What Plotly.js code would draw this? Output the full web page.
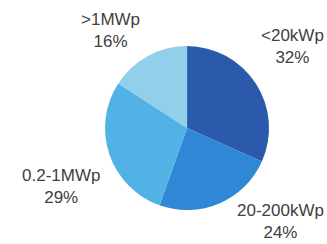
<!DOCTYPE html>
<html><head><meta charset="utf-8">
<script src="https://cdn.plot.ly/plotly-3.0.1.min.js"></script>
<style>html,body{margin:0;padding:0;background:#fff}#c{width:327px;height:244px}</style>
</head><body><div id="c"></div>
<script>
const categories = ["&lt;20kWp", "20-200kWp", "0.2-1MWp", "&gt;1MWp"];
const shares = [32, 24, 29, 16];
const colors = ["#2b5aaa", "#3087d5", "#52b2e6", "#92cfea"];

// label placement (paper coordinates), one per category
const labelPos = [[0.893, 0.81], [0.858, 0.092], [0.186, 0.234], [0.339, 0.877]];

const trace = {
  type: "pie",
  values: shares,
  labels: categories,
  textinfo: "none",
  sort: false,
  direction: "clockwise",
  rotation: 0,
  marker: {colors: colors, line: {width: 0}},
  showlegend: false,
  hoverinfo: "none",
  domain: {x: [0.321, 0.823], y: [0.139, 0.811]},
  automargin: false
};
const annotations = categories.map((c, i) => ({
  xref: "paper", yref: "paper",
  x: labelPos[i][0], y: labelPos[i][1],
  xanchor: "center", yanchor: "middle", align: "center",
  showarrow: false,
  text: c + "<br>" + shares[i] + "%",
  font: {family: "Liberation Sans, Arial, sans-serif", size: 17, color: "#404040"}
}));
Plotly.newPlot("c", [trace], {
  width: 327, height: 244,
  margin: {l: 0, r: 0, t: 0, b: 0},
  paper_bgcolor: "#fff",
  showlegend: false,
  annotations: annotations
}, {displayModeBar: false, staticPlot: true});
</script></body></html>
